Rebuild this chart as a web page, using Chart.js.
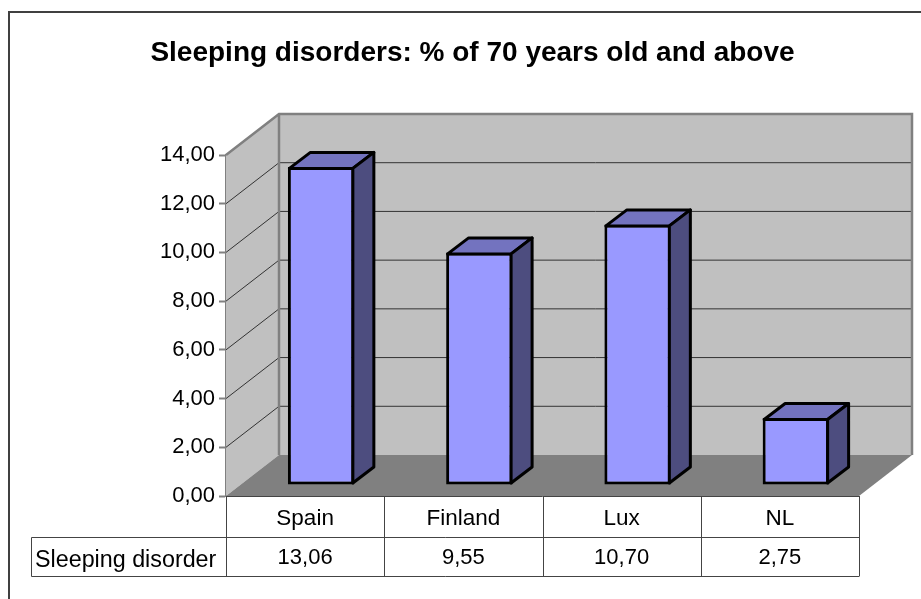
<!DOCTYPE html>
<html>
<head>
<meta charset="utf-8">
<title>Sleeping disorders</title>
<script src="https://cdn.jsdelivr.net/npm/chart.js@4"></script>
<style>
  html, body { margin: 0; padding: 0; background: #fff; }
  canvas { display: block; }
</style>
</head>
<body>
<canvas id="chartCanvas" width="921" height="599"></canvas>
<script>
var titleText = 'Sleeping disorders: % of 70 years old and above';
var categories = ['Spain', 'Finland', 'Lux', 'NL'];
var seriesName = 'Sleeping disorder';
var seriesValues = [13.06, 9.55, 10.70, 2.75];

var FONT = '"Liberation Sans", Arial, sans-serif';
var depthX = 53, depthY = 41;       // depth of the whole box
var barDepthX = 21, barDepthY = 16; // depth of one bar
var barShiftX = 16, barShiftY = 11; // bars stand inside the floor

function comma(v) {
    return v.toFixed(2).replace('.', ',');
}

function poly(ctx, pts) {
    ctx.beginPath();
    ctx.moveTo(pts[0][0], pts[0][1]);
    for (var i = 1; i < pts.length; i++) ctx.lineTo(pts[i][0], pts[i][1]);
    ctx.closePath();
}

// walls, floor and gridlines go behind the bars
var box3d = {
    id: 'box3d',
    beforeDraw: function(chart) {
        var ctx = chart.ctx;
        ctx.save();
        ctx.fillStyle = '#fff';
        ctx.fillRect(0, 0, chart.width, chart.height);
        // outer frame, only left and top fall inside the picture
        ctx.strokeStyle = '#404040';
        ctx.lineWidth = 2;
        ctx.strokeRect(9, 12, 1000, 1000);
        ctx.restore();
    },
    beforeDatasetsDraw: function(chart) {
        var ctx = chart.ctx, a = chart.chartArea, y = chart.scales.y;
        var top = y.getPixelForValue(14), bot = y.getPixelForValue(0);
        ctx.save();
        // back wall
        ctx.fillStyle = '#c0c0c0';
        ctx.fillRect(a.left + depthX, top - depthY, a.right - a.left, bot - top);
        // side wall
        poly(ctx, [[a.left, top], [a.left + depthX, top - depthY], [a.left + depthX, bot - depthY], [a.left, bot]]);
        ctx.fill();
        // gridlines
        ctx.lineWidth = 1;
        ctx.strokeStyle = '#333';
        y.ticks.forEach(function(t) {
            if (t.value === 0 || t.value === 14) return;
            var py = y.getPixelForValue(t.value);
            ctx.beginPath();
            ctx.moveTo(a.left, py);
            ctx.lineTo(a.left + depthX, py - depthY);
            ctx.lineTo(a.right + depthX, py - depthY);
            ctx.stroke();
        });
        // wall outlines
        ctx.strokeStyle = '#808080';
        ctx.lineWidth = 2.5;
        ctx.beginPath();
        ctx.moveTo(a.left, top);
        ctx.lineTo(a.left + depthX, top - depthY);
        ctx.lineTo(a.right + depthX, top - depthY);
        ctx.lineTo(a.right + depthX, bot - depthY);
        ctx.moveTo(a.left + depthX, top - depthY);
        ctx.lineTo(a.left + depthX, bot - depthY);
        ctx.stroke();
        // floor
        ctx.fillStyle = '#808080';
        poly(ctx, [[a.left, bot], [a.right, bot], [a.right + depthX, bot - depthY], [a.left + depthX, bot - depthY]]);
        ctx.fill();
        ctx.restore();
    },
    beforeDatasetDraw: function(chart) {
        chart.ctx.save();
        chart.ctx.translate(barShiftX, -barShiftY);
    },
    afterDatasetDraw: function(chart, args) {
        var ctx = chart.ctx;
        ctx.lineWidth = 3;
        ctx.lineJoin = 'round';
        ctx.strokeStyle = '#000';
        args.meta.data.forEach(function(bar) {
            var l = bar.x - bar.width / 2 + 1.5, r = bar.x + bar.width / 2 - 1.5;
            var t = bar.y + 1.5, b = bar.base - 1.5;
            // top face
            poly(ctx, [[l, t], [l + barDepthX, t - barDepthY], [r + barDepthX, t - barDepthY], [r, t]]);
            ctx.fillStyle = '#7373bf';
            ctx.fill();
            ctx.stroke();
            // side face
            poly(ctx, [[r, t], [r + barDepthX, t - barDepthY], [r + barDepthX, b - barDepthY], [r, b]]);
            ctx.fillStyle = '#4d4d7f';
            ctx.fill();
            ctx.stroke();
        });
        ctx.restore();
    },
    afterDraw: function(chart) {
        // data table under the plot
        var ctx = chart.ctx, a = chart.chartArea, x = chart.scales.x;
        var rowTop = a.bottom, rowMid = 537.5, rowBot = 576.5, headLeft = 31.5;
        var step = (a.right - a.left) / categories.length;
        ctx.save();
        ctx.strokeStyle = '#444';
        ctx.lineWidth = 1;
        ctx.beginPath();
        for (var i = 0; i <= categories.length; i++) {
            var px = Math.round(a.left + i * step) + 0.5;
            ctx.moveTo(px, rowTop);
            ctx.lineTo(px, rowBot);
        }
        ctx.moveTo(a.left, rowTop + 0.5);
        ctx.lineTo(a.right, rowTop + 0.5);
        ctx.moveTo(headLeft, rowMid);
        ctx.lineTo(a.right, rowMid);
        ctx.moveTo(headLeft, rowBot);
        ctx.lineTo(a.right, rowBot);
        ctx.moveTo(headLeft, rowMid);
        ctx.lineTo(headLeft, rowBot);
        ctx.stroke();
        ctx.fillStyle = '#000';
        ctx.textBaseline = 'middle';
        ctx.textAlign = 'left';
        ctx.font = '23.3px ' + FONT;
        ctx.fillText(seriesName, 35, 561);
        ctx.textAlign = 'center';
        ctx.font = '22px ' + FONT;
        seriesValues.forEach(function(v, i) {
            ctx.fillText(comma(v), x.getPixelForValue(i), 558);
        });
        ctx.restore();
    }
};

var ctx = document.getElementById('chartCanvas').getContext('2d');
var chart = new Chart(ctx, {
    type: 'bar',
    data: {
        labels: categories,
        datasets: [{
            label: seriesName,
            data: seriesValues,
            backgroundColor: '#9999ff',
            borderColor: '#000',
            borderWidth: 3,
            borderSkipped: false,
            barPercentage: 0.42,
            categoryPercentage: 1,
            clip: false
        }]
    },
    plugins: [box3d],
    options: {
        responsive: false,
        animation: false,
        layout: { padding: { left: 86, right: 62, top: 0, bottom: 0 } },
        plugins: {
            legend: { display: false },
            tooltip: { enabled: false },
            title: {
                display: true,
                text: titleText,
                color: '#000',
                font: { family: FONT, size: 28, weight: 'bold', lineHeight: 1.2 },
                padding: { top: 36, bottom: 85.4 }
            }
        },
        scales: {
            x: {
                grid: { display: false },
                border: { display: false },
                afterFit: function(scale) { scale.height = 103; },
                ticks: { color: '#000', padding: 1, maxRotation: 0, font: { family: FONT, size: 22.5 } }
            },
            y: {
                min: 0,
                max: 14,
                afterFit: function(scale) { scale.width = 140; },
                border: { color: '#808080', width: 2 },
                grid: { drawOnChartArea: false, color: '#808080', tickLength: 7, tickWidth: 2 },
                ticks: {
                    stepSize: 2,
                    color: '#000',
                    padding: 4,
                    font: { family: FONT, size: 22 },
                    callback: function(v) { return comma(v); }
                }
            }
        }
    }
});
</script>
</body>
</html>
